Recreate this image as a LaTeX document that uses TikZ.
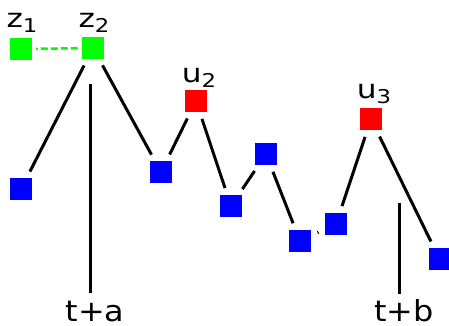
\documentclass[tikz,border=0pt]{standalone}
\usepackage{fontspec}
\setmainfont{DejaVu Sans}[FakeStretch=1.2]
\newfontfamily\endfont{DejaVu Sans}[FakeStretch=1.1]
\newcommand\lowsub[1]{\raisebox{-5pt}{\fontsize{19}{20}\selectfont #1}}
\begin{document}
\begin{tikzpicture}[x=1pt,y=-1pt,
  sq/.style={minimum size=21.5pt,inner sep=0pt,outer sep=0pt,draw=none},
  gsq/.style={sq,fill={rgb,255:red,0;green,255;blue,0}},
  bsq/.style={sq,fill={rgb,255:red,0;green,0;blue,255}},
  rsq/.style={sq,fill={rgb,255:red,255;green,0;blue,0}},
  lbl/.style={inner sep=0pt,anchor=base,text depth=0pt,font=\fontsize{26}{30}\selectfont},
  endlbl/.style={lbl,font=\endfont\fontsize{29}{32}\selectfont},
  link/.style={line width=3pt,black,shorten >=7.5pt,shorten <=7.5pt},
  dlink/.style={line width=2.5pt,color={rgb,255:red,0;green,255;blue,0},
                dash pattern=on 7pt off 3pt,shorten >=4.5pt,shorten <=4.5pt},
  stem/.style={line width=3pt,black}]
\useasboundingbox (0,0) rectangle (449,325);

% squares
\node[gsq] (z1) at (21,49) {};
\node[gsq] (z2) at (93,48) {};
\node[bsq] (l1) at (21,189) {};
\node[bsq] (b1) at (161,172) {};
\node[rsq] (u2) at (196,101) {};
\node[bsq] (b2) at (231,206) {};
\node[bsq] (b3) at (266,154) {};
\node[bsq] (b4) at (300,241) {};
\node[bsq] (b5) at (336,224) {};
\node[rsq] (u3) at (371,119) {};
\node[bsq] (b6) at (439.5,259) {};

% labels
\node[lbl] (z1l) at (22,27) {z\lowsub{1}};
\node[lbl] (z2l) at (94,27) {z\lowsub{2}};
\node[lbl] (u2l) at (199,82) {u\lowsub{2}};
\node[lbl] (u3l) at (374,98) {u\lowsub{3}};
\node[endlbl] (ta) at (95,321) {t+a};
\node[endlbl] (tb) at (404,321) {t+b};

% edges
\draw[dlink] (z2) -- (z1);
\draw[link] (z2) -- (l1);
\draw[link] (z2) -- (b1);
\draw[link] (b1) -- (u2);
\draw[link] (u2) -- (b2);
\draw[link] (b2) -- (b3);
\draw[link] (b3) -- (b4);
\draw[link] (b4) -- (b5);
\draw[link] (u3) -- (b5);
\draw[link] (u3) -- (b6);

% vertical stems above the offset labels
\coordinate (tatop) at (90,84);
\coordinate (tabot) at (90,293);
\coordinate (tbtop) at (399,203);
\coordinate (tbbot) at (399,294);
\draw[stem] (tatop) -- (tabot);
\draw[stem] (tbtop) -- (tbbot);
\end{tikzpicture}
\end{document}
